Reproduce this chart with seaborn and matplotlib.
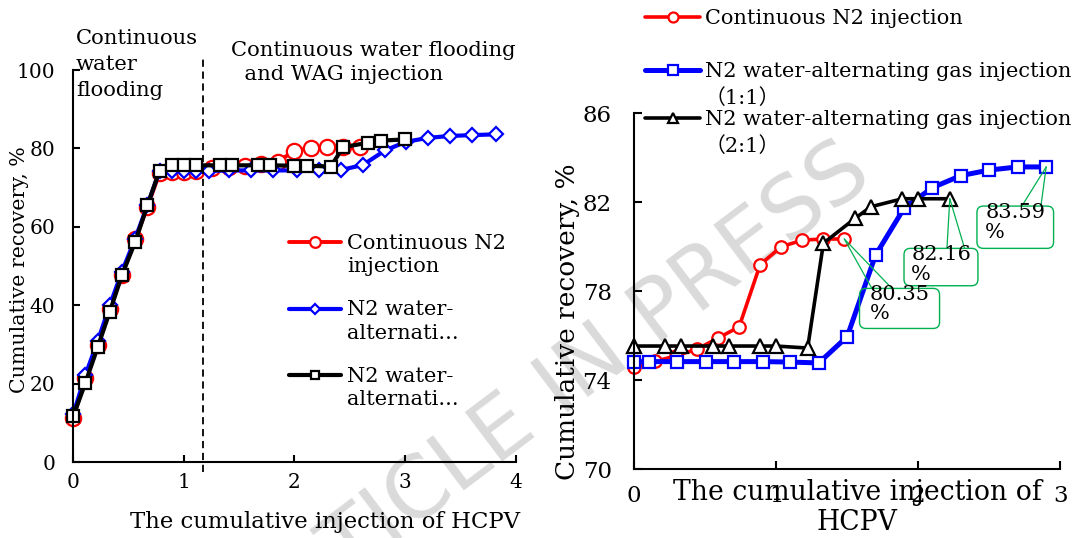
import numpy as np
import pandas as pd
import matplotlib
matplotlib.use("Agg")
import matplotlib.pyplot as plt
import seaborn as sns
from matplotlib.legend_handler import HandlerLine2D
from matplotlib.patches import FancyBboxPatch

# ---------------- data: left panel (whole process) ----------------
left_cont_x = [0, 0.11, 0.22, 0.33, 0.44, 0.56, 0.67, 0.78, 0.89, 1.0, 1.11,
               1.258, 1.406, 1.554, 1.702, 1.85, 1.998, 2.146, 2.294, 2.442, 2.59]
left_cont_y = [11.2, 21.5, 29.8, 39.0, 47.8, 56.8, 65.0, 73.7, 74.0, 74.0, 74.2,
               74.9, 75.2, 75.5, 76.0, 76.6, 79.4, 80.1, 80.3, 80.35, 80.35]
left_wag11_x = [0, 0.11, 0.22, 0.33, 0.44, 0.56, 0.67, 0.78, 0.89, 1.0, 1.11,
                1.225, 1.41, 1.61, 1.81, 2.02, 2.22, 2.42, 2.62, 2.82, 3.01,
                3.21, 3.41, 3.61, 3.82]
left_wag11_y = [12.3, 22.3, 30.8, 40.0, 48.6, 57.0, 65.5, 74.3, 74.2, 74.2, 74.2,
                74.3, 74.4, 74.4, 74.4, 74.4, 74.4, 74.5, 75.8, 79.5, 81.7,
                82.7, 83.2, 83.4, 83.6]
left_wag21_x = [0, 0.11, 0.22, 0.33, 0.44, 0.56, 0.67, 0.78, 0.89, 1.0, 1.11,
                1.33, 1.44, 1.67, 1.78, 2.0, 2.11, 2.33, 2.44, 2.67, 2.78, 3.0]
left_wag21_y = [11.8, 20.3, 29.3, 38.4, 47.7, 56.2, 65.5, 74.3, 75.7, 75.7, 75.7,
                75.7, 75.7, 75.7, 75.7, 75.6, 75.6, 75.4, 80.3, 81.5, 82.0, 82.3]
left_labels = ["Continuous N2\ninjection", "N2 water-\nalternati...", "N2 water-\nalternati..."]
left_xticks = [0, 1, 2, 3, 4]
left_yticks = [0, 20, 40, 60, 80, 100]
stage_split = 1.176

# ---------------- data: right panel (after water flooding) ----------------
right_cont_x = [0, 0.148, 0.296, 0.444, 0.592, 0.74, 0.888, 1.036, 1.184, 1.332, 1.48]
right_cont_y = [74.6, 74.85, 75.1, 75.4, 75.9, 76.4, 79.2, 80.0, 80.3, 80.35, 80.35]
right_wag11_x = [0, 0.105, 0.305, 0.505, 0.705, 0.905, 1.1, 1.3, 1.5, 1.7, 1.9,
                 2.1, 2.3, 2.5, 2.7, 2.9]
right_wag11_y = [74.84, 74.84, 74.84, 74.84, 74.84, 74.84, 74.82, 74.78, 75.96, 79.63,
                 81.73, 82.66, 83.2, 83.45, 83.59, 83.59]
right_wag21_x = [0, 0.222, 0.333, 0.556, 0.667, 0.889, 1.0, 1.222, 1.333, 1.556,
                 1.667, 1.889, 2.0, 2.222]
right_wag21_y = [75.54, 75.54, 75.54, 75.54, 75.54, 75.54, 75.54, 75.45, 80.16, 81.28,
                 81.8, 82.16, 82.16, 82.16]
right_labels = ["Continuous N2 injection",
                "N2 water-alternating gas injection\n（1:1）",
                "N2 water-alternating gas injection\n（2:1）"]
right_xticks = [0, 1, 2, 3]
right_yticks = [70, 74, 78, 82, 86]
callout_values = [80.35, 82.16, 83.59]

RED, BLUE, BLACK, GREEN = "#ff0000", "#0000ff", "#000000", "#00b050"

sns.set_theme(style="white")
plt.rcParams["font.family"] = ["DejaVu Serif", "Noto Sans CJK SC"]
for k in ["text.color", "axes.labelcolor", "xtick.color", "ytick.color", "axes.edgecolor"]:
    plt.rcParams[k] = "black"

W, H = 1081, 538
fig = plt.figure(figsize=(W / 100, H / 100), dpi=100)
axL = fig.add_axes([73.3 / W, 1 - 462.3 / H, 442.2 / W, 392.3 / H])
axR = fig.add_axes([633.9 / W, 1 - 469.3 / H, 426.5 / W, 356.0 / H])


class FirstLineHandler(HandlerLine2D):
    def __init__(self, dy=0.0, **kw):
        super().__init__(**kw)
        self.dy = dy

    def create_artists(self, legend, orig_handle, xdescent, ydescent, width, height, fontsize, trans):
        arts = super().create_artists(legend, orig_handle, xdescent, ydescent, width, height, fontsize, trans)
        for a in arts:
            a.set_ydata(np.asarray(a.get_ydata(), float) + self.dy)
        return arts


def draw(ax, x, y, color, marker, ms, lw, label):
    df = pd.DataFrame({"x": x, "y": y})
    sns.lineplot(data=df, x="x", y="y", ax=ax, color=color, marker=marker, markersize=ms,
                 markerfacecolor="white", markeredgecolor=color, markeredgewidth=1.6,
                 linewidth=lw, estimator=None, sort=False, label=label, clip_on=False)
    return ax.lines[-1]


def style(ax, fs, xpad, ypad, tl):
    sns.despine(ax=ax)
    ax.patch.set_alpha(0)
    for s in ["left", "bottom"]:
        ax.spines[s].set_color("black")
        ax.spines[s].set_linewidth(1.5)
    ax.tick_params(axis="both", which="major", direction="in", length=tl, width=1.5,
                   bottom=True, left=True, labelsize=fs, colors="black")
    ax.tick_params(axis="x", pad=xpad)
    ax.tick_params(axis="y", pad=ypad)


# ---------------- left panel ----------------
lL1 = draw(axL, left_cont_x, left_cont_y, RED, "o", 11, 2.8, left_labels[0])
lL2 = draw(axL, left_wag11_x, left_wag11_y, BLUE, "D", 7.5, 3.0, left_labels[1])
lL3 = draw(axL, left_wag21_x, left_wag21_y, BLACK, "s", 8.5, 3.0, left_labels[2])
axL.set_xlim(0, 4)
axL.set_ylim(0, 100)
axL.set_xticks(left_xticks)
axL.set_yticks(left_yticks)
style(axL, 14.5, 7.5, 13, 5)
axL.set_xlabel("The cumulative injection of HCPV", fontsize=16.4)
axL.set_ylabel("Cumulative recovery, %", fontsize=14.8)
axL.xaxis.set_label_coords(0.57, -0.125)
axL.yaxis.set_label_coords(-0.10, 0.49)
axL.axvline(stage_split, ymin=-0.024, ymax=1.028, clip_on=False, color="black",
            lw=1.3, ls=(0, (4, 2.6)))
leg = axL.legend([lL1, lL2, lL3], left_labels, loc="upper left",
                 bbox_to_anchor=(289.3 / W, 1 - 234 / H), bbox_transform=fig.transFigure,
                 frameon=False, fontsize=15, handlelength=2.5, handletextpad=0.27,
                 labelspacing=1.15, borderpad=0, borderaxespad=0, markerscale=0.7,
                 handler_map={lL1: FirstLineHandler(9.6), lL2: FirstLineHandler(9.6),
                              lL3: FirstLineHandler(9.6)})
for t in leg.get_texts():
    t.set_linespacing(1.3)
fig.text(76 / W, 1 - 29 / H, "Continuous\nwater\nflooding", fontsize=15.2, ha="left",
         va="top", linespacing=1.45)
fig.text(230.7 / W, 1 - 41 / H, "Continuous water flooding\n  and WAG injection",
         fontsize=15.2, ha="left", va="top", linespacing=1.3)

# ---------------- right panel ----------------
lR1 = draw(axR, right_cont_x, right_cont_y, RED, "o", 9, 2.6, right_labels[0])
lR2 = draw(axR, right_wag11_x, right_wag11_y, BLUE, "s", 8.5, 3.6, right_labels[1])
lR3 = draw(axR, right_wag21_x, right_wag21_y, BLACK, "^", 9.5, 2.6, right_labels[2])
axR.set_xlim(0, 3)
axR.set_ylim(70, 86)
axR.set_xticks(right_xticks)
axR.set_yticks(right_yticks)
style(axR, 16.5, 11, 16, 6)
axR.set_xlabel("The cumulative injection of\nHCPV", fontsize=19.2, linespacing=1.15)
axR.set_ylabel("Cumulative recovery, %", fontsize=19)
axR.xaxis.set_label_coords(0.523, -0.028)
axR.yaxis.set_label_coords(-0.127, 0.414)
if axR.get_legend() is not None:
    axR.get_legend().remove()
legR1 = axR.legend([lR1], right_labels[:1], loc="upper left",
                   bbox_to_anchor=(645 / W, 1 - 9 / H), bbox_transform=fig.transFigure,
                   frameon=False, fontsize=15, handlelength=2.64, handletextpad=0.24,
                   borderpad=0, borderaxespad=0, markerscale=0.8)
axR.add_artist(legR1)
legR2 = axR.legend([lR2, lR3], right_labels[1:], loc="upper left",
                   bbox_to_anchor=(645 / W, 1 - 62 / H), bbox_transform=fig.transFigure,
                   frameon=False, fontsize=15, handlelength=2.64, handletextpad=0.24,
                   labelspacing=0.12, borderpad=0, borderaxespad=0, markerscale=0.8,
                   handler_map={lR2: FirstLineHandler(11.0), lR3: FirstLineHandler(11.0)})
for t in legR2.get_texts():
    t.set_linespacing(1.45)

# callouts (box position, anchor lines, text)
pts = [(right_cont_x[-1], right_cont_y[-1]),
       (right_wag21_x[-1], right_wag21_y[-1]),
       (right_wag11_x[-1], right_wag11_y[-1])]
boxes = [(1.587, 76.33, 2.150, 78.13), (1.900, 78.25, 2.420, 79.93), (2.413, 79.93, 2.952, 81.83)]
line_ends = [(1.674, 1.815), (2.202, 2.326), (2.729, 2.863)]
text_pos = [(1.658, 78.30), (1.951, 80.08), (2.471, 81.97)]
aspect = (16 / 356.0) / (3 / 426.5)
for val, p, b, le, tp in zip(callout_values, pts, boxes, line_ends, text_pos):
    x0, y0, x1, y1 = b
    patch = FancyBboxPatch((x0, y0), x1 - x0, y1 - y0,
                           boxstyle="round,pad=0,rounding_size=0.045",
                           mutation_aspect=aspect, fc="none", ec=GREEN, lw=1.0,
                           transform=axR.transData, clip_on=False, zorder=4)
    axR.add_patch(patch)
    for xe in le:
        axR.annotate("", xy=p, xytext=(xe, y1),
                     arrowprops=dict(arrowstyle="-", color=GREEN, lw=0.9,
                                     shrinkA=0, shrinkB=0), annotation_clip=False)
    axR.text(tp[0], tp[1], f"{val:.2f}\n%", fontsize=15, ha="left", va="top",
             linespacing=1.05, zorder=5, clip_on=False)

# watermark
fig.text(552 / W, 1 - 395 / H, "ARTICLE IN PRESS", fontsize=62, rotation=37,
         ha="center", va="center", color="#dadada", family="DejaVu Sans",
         zorder=-1, rotation_mode="anchor")

fig.savefig("out.png", dpi=100)
